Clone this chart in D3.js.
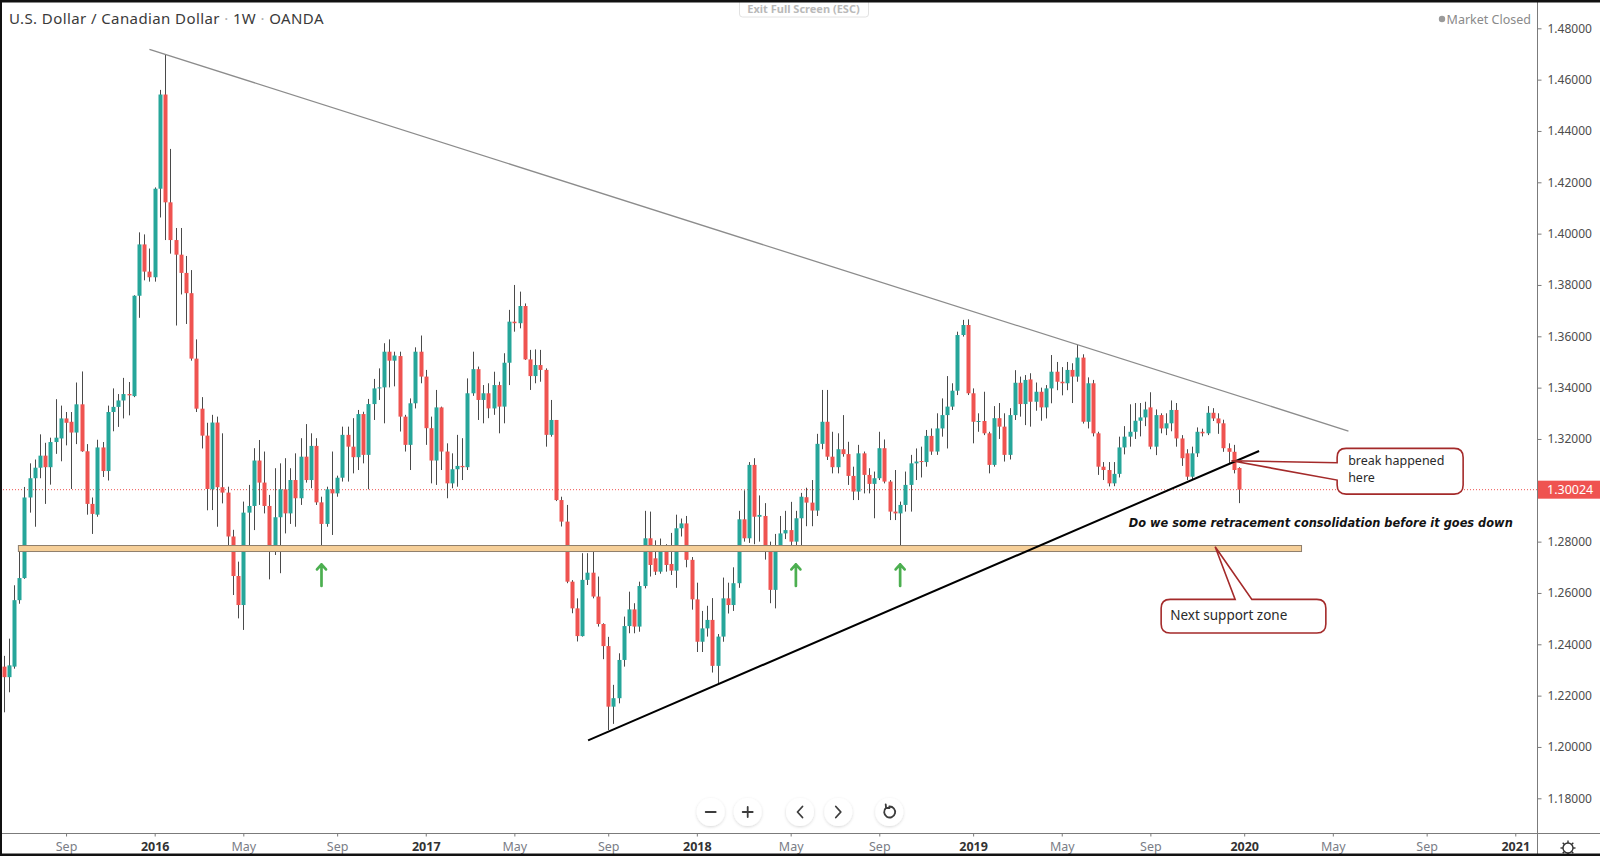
<!DOCTYPE html>
<html><head><meta charset="utf-8">
<script src="https://d3js.org/d3.v7.min.js"></script>
<style>
html,body{margin:0;padding:0;background:#fff;overflow:hidden}
svg{display:block}
</style></head><body>
<svg id="chart" width="1600" height="856"></svg>
<script>
// ================= DATA =================
const firstBarDate = "2015-06-15";   // weekly bars, one per week
// [open, high, low, close]
const bars2015 = [
[1.2313,1.2355,1.2135,1.2272],[1.2272,1.2422,1.2213,1.2318],[1.2313,1.2630,1.2305,1.2572],[1.2572,1.2780,1.2558,1.2658],
[1.2658,1.3013,1.2655,1.2972],[1.2972,1.3105,1.2913,1.3047],[1.3047,1.3120,1.2858,1.3088],[1.3088,1.3218,1.3047,1.3135],
[1.3135,1.3185,1.2947,1.3090],[1.3090,1.3205,1.3022,1.3188],[1.3188,1.3355,1.3142,1.3205],[1.3202,1.3330,1.3113,1.3280],
[1.3280,1.3305,1.3175,1.3263],[1.3267,1.3305,1.3005,1.3225],[1.3225,1.3420,1.3180,1.3335],[1.3335,1.3463,1.3150,1.3152],
[1.3152,1.3180,1.2905,1.2947],[1.2947,1.2972,1.2830,1.2908],[1.2905,1.3197,1.2897,1.3167],[1.3167,1.3188,1.3052,1.3075],
[1.3075,1.3330,1.3038,1.3305],[1.3305,1.3397,1.3230,1.3325],[1.3325,1.3375,1.3247,1.3350],[1.3350,1.3438,1.3280,1.3375],
[1.3375,1.3422,1.3292,1.3370],[1.3367,1.3760,1.3363,1.3758],[1.3758,1.4005,1.3672,1.3958],[1.3958,1.3997,1.3818,1.3852],
[1.3852,1.3942,1.3813,1.3830]
];
const bars2016 = [
[1.3830,1.4180,1.3813,1.4175],[1.4175,1.4560,1.4063,1.4542],[1.4542,1.4697,1.3975,1.4122],[1.4122,1.4330,1.3922,1.3975],
[1.3975,1.4022,1.3642,1.3918],[1.3918,1.4022,1.3763,1.3847],[1.3847,1.3913,1.3648,1.3768],[1.3768,1.3858,1.3505,1.3513],
[1.3513,1.3588,1.3305,1.3318],[1.3318,1.3363,1.3163,1.3213],[1.3213,1.3263,1.2922,1.3005],[1.3004,1.3294,1.2923,1.3264],
[1.3264,1.3287,1.2858,1.3012],[1.3012,1.3222,1.2949,1.2991],[1.2991,1.3014,1.2774,1.2820],[1.2820,1.2846,1.2592,1.2666],
[1.2666,1.2722,1.2501,1.2553],[1.2553,1.2956,1.2456,1.2913],[1.2913,1.3021,1.2774,1.2939],[1.2939,1.3164,1.2845,1.3116],
[1.3116,1.3196,1.2943,1.3030],[1.3030,1.3151,1.2910,1.2939],[1.2939,1.2982,1.2653,1.2781],[1.2781,1.3086,1.2748,1.2895],
[1.2895,1.3105,1.2677,1.3004],[1.3004,1.3125,1.2832,1.2910],[1.2910,1.3086,1.2869,1.3040],[1.3040,1.3144,1.2858,1.2969],
[1.2969,1.3203,1.2943,1.3131],[1.3131,1.3258,1.3030,1.3040],[1.3040,1.3222,1.3008,1.3173],[1.3173,1.3203,1.2943,1.2953],
[1.2953,1.2975,1.2768,1.2869],[1.2869,1.3014,1.2858,1.3004],[1.3004,1.3151,1.2826,1.2988],[1.2988,1.3057,1.2975,1.3049],
[1.3049,1.3248,1.3034,1.3216],[1.3216,1.3248,1.3034,1.3170],[1.3170,1.3281,1.3066,1.3129],[1.3129,1.3313,1.3079,1.3297],
[1.3297,1.3306,1.3105,1.3138],[1.3138,1.3356,1.3004,1.3336],[1.3336,1.3434,1.3274,1.3397],[1.3397,1.3475,1.3352,1.3401],
[1.3401,1.3573,1.3261,1.3540],[1.3540,1.3588,1.3401,1.3505],[1.3505,1.3540,1.3405,1.3525],[1.3523,1.3540,1.3229,1.3287],
[1.3287,1.3294,1.3151,1.3177],[1.3177,1.3358,1.3079,1.3339],[1.3339,1.3557,1.3319,1.3540],[1.3540,1.3603,1.3417,1.3443]
];
const bars2017 = [
[1.3443,1.3469,1.3177,1.3242],[1.3242,1.3287,1.3027,1.3116],[1.3116,1.3391,1.3021,1.3323],[1.3323,1.3326,1.3079,1.3151],
[1.3151,1.3183,1.2969,1.3027],[1.3027,1.3144,1.3008,1.3082],[1.3082,1.3216,1.3014,1.3095],[1.3095,1.3203,1.3040,1.3090],
[1.3090,1.3436,1.3079,1.3378],[1.3378,1.3540,1.3368,1.3472],[1.3472,1.3482,1.3274,1.3352],[1.3352,1.3410,1.3261,1.3378],
[1.3378,1.3417,1.3281,1.3319],[1.3319,1.3462,1.3294,1.3410],[1.3410,1.3423,1.3222,1.3326],[1.3326,1.3534,1.3261,1.3497],
[1.3497,1.3703,1.3410,1.3657],[1.3657,1.3800,1.3618,1.3651],[1.3651,1.3774,1.3631,1.3718],[1.3718,1.3728,1.3508,1.3510],
[1.3510,1.3547,1.3391,1.3445],[1.3445,1.3549,1.3417,1.3488],[1.3488,1.3547,1.3423,1.3469],[1.3469,1.3475,1.3170,1.3216],
[1.3216,1.3352,1.3209,1.3274],[1.3274,1.3274,1.2958,1.2962],[1.2962,1.2975,1.2859,1.2878],[1.2878,1.2943,1.2638,1.2644],
[1.2644,1.2650,1.2521,1.2540],[1.2540,1.2579,1.2411,1.2432],[1.2432,1.2755,1.2430,1.2651],[1.2651,1.2755,1.2631,1.2679],
[1.2679,1.2783,1.2579,1.2586],[1.2586,1.2664,1.2469,1.2479],[1.2479,1.2482,1.2342,1.2393],[1.2393,1.2429,1.2066,1.2157],
[1.2157,1.2242,1.2090,1.2190],[1.2190,1.2365,1.2170,1.2339],[1.2339,1.2508,1.2313,1.2471],[1.2471,1.2605,1.2443,1.2536],
[1.2536,1.2560,1.2443,1.2469],[1.2469,1.2644,1.2449,1.2627],[1.2627,1.2920,1.2618,1.2813],[1.2813,1.2917,1.2664,1.2709],
[1.2735,1.2805,1.2670,1.2683],[1.2683,1.2812,1.2675,1.2768],[1.2768,1.2790,1.2683,1.2709],[1.2713,1.2834,1.2670,1.2687],
[1.2687,1.2905,1.2620,1.2852],[1.2852,1.2890,1.2820,1.2871],[1.2871,1.2900,1.2700,1.2729],[1.2729,1.2740,1.2535,1.2575]
];
const bars2018 = [
[1.2575,1.2640,1.2370,1.2410],[1.2410,1.2530,1.2370,1.2462],[1.2462,1.2550,1.2430,1.2495],[1.2495,1.2580,1.2290,1.2316],
[1.2316,1.2440,1.2248,1.2430],[1.2430,1.2660,1.2410,1.2579],[1.2579,1.2640,1.2520,1.2553],[1.2553,1.2700,1.2530,1.2638],
[1.2638,1.2920,1.2620,1.2887],[1.2887,1.3000,1.2800,1.2813],[1.2813,1.3110,1.2795,1.3099],[1.3099,1.3125,1.2790,1.2897],
[1.2897,1.2980,1.2800,1.2904],[1.2900,1.2950,1.2730,1.2781],[1.2781,1.2800,1.2560,1.2612],[1.2612,1.2830,1.2540,1.2781],
[1.2781,1.2900,1.2760,1.2832],[1.2832,1.2920,1.2810,1.2845],[1.2845,1.2955,1.2765,1.2800],[1.2800,1.2920,1.2770,1.2891],
[1.2891,1.2990,1.2770,1.2975],[1.2973,1.3010,1.2860,1.2952],[1.2952,1.3040,1.2860,1.2921],[1.2921,1.3220,1.2900,1.3181],
[1.3181,1.3391,1.3160,1.3267],[1.3267,1.3391,1.3118,1.3131],[1.3131,1.3228,1.3066,1.3090],[1.3090,1.3222,1.3066,1.3160],
[1.3160,1.3293,1.3131,1.3141],[1.3141,1.3189,1.3021,1.3056],[1.3056,1.3092,1.2962,1.2995],[1.2995,1.3177,1.2962,1.3144],
[1.3144,1.3151,1.2988,1.3060],[1.3060,1.3086,1.2988,1.3025],[1.3025,1.3073,1.2891,1.3047],[1.3047,1.3228,1.3040,1.3164],
[1.3164,1.3198,1.3027,1.3034],[1.3034,1.3040,1.2884,1.2917],[1.2917,1.3079,1.2884,1.2910],[1.2910,1.2956,1.2781,1.2943],
[1.2943,1.3073,1.2917,1.3021],[1.3021,1.3138,1.2917,1.3105],[1.3105,1.3163,1.3040,1.3112],[1.3114,1.3170,1.3050,1.3110],
[1.3110,1.3235,1.3092,1.3212],[1.3212,1.3241,1.3138,1.3151],[1.3151,1.3300,1.3138,1.3241],[1.3241,1.3358,1.3209,1.3293],
[1.3293,1.3445,1.3163,1.3326],[1.3326,1.3417,1.3313,1.3388],[1.3388,1.3618,1.3371,1.3605],[1.3605,1.3664,1.3599,1.3644],
[1.3644,1.3666,1.3371,1.3378]
];
const bars2019 = [
[1.3378,1.3397,1.3183,1.3267],[1.3267,1.3300,1.3228,1.3270],[1.3270,1.3384,1.3215,1.3222],[1.3222,1.3228,1.3066,1.3099],
[1.3099,1.3328,1.3092,1.3281],[1.3281,1.3340,1.3200,1.3248],[1.3248,1.3300,1.3112,1.3138],[1.3138,1.3320,1.3120,1.3293],
[1.3293,1.3468,1.3274,1.3419],[1.3419,1.3443,1.3287,1.3336],[1.3336,1.3449,1.3254,1.3430],[1.3432,1.3456,1.3248,1.3345],
[1.3345,1.3420,1.3310,1.3384],[1.3384,1.3400,1.3271,1.3323],[1.3323,1.3410,1.3280,1.3397],[1.3397,1.3527,1.3339,1.3462],
[1.3462,1.3500,1.3390,1.3423],[1.3423,1.3480,1.3370,1.3417],[1.3417,1.3500,1.3390,1.3469],[1.3469,1.3495,1.3340,1.3443],
[1.3443,1.3567,1.3423,1.3517],[1.3517,1.3530,1.3260,1.3267],[1.3267,1.3440,1.3241,1.3417],[1.3417,1.3430,1.3210,1.3222],
[1.3222,1.3228,1.3060,1.3092],[1.3092,1.3110,1.3040,1.3079],[1.3079,1.3110,1.3015,1.3027],[1.3027,1.3110,1.3016,1.3064],
[1.3064,1.3209,1.3050,1.3167],[1.3167,1.3250,1.3140,1.3209],[1.3209,1.3335,1.3170,1.3228],[1.3228,1.3340,1.3200,1.3271],
[1.3271,1.3340,1.3210,1.3284],[1.3284,1.3345,1.3250,1.3315],[1.3323,1.3382,1.3160,1.3170],[1.3170,1.3315,1.3137,1.3293],
[1.3293,1.3300,1.3222,1.3241],[1.3241,1.3300,1.3215,1.3261],[1.3261,1.3350,1.3230,1.3313],[1.3313,1.3340,1.3170,1.3202],
[1.3202,1.3215,1.3095,1.3125],[1.3144,1.3160,1.3040,1.3053],[1.3053,1.3170,1.3040,1.3144],[1.3144,1.3245,1.3130,1.3228],
[1.3228,1.3240,1.3210,1.3222],[1.3222,1.3328,1.3215,1.3302],[1.3302,1.3320,1.3270,1.3280],[1.3280,1.3300,1.3220,1.3261],
[1.3261,1.3275,1.3150,1.3164],[1.3164,1.3183,1.3105,1.3150],[1.3150,1.3177,1.3066,1.3079],[1.3087,1.3090,1.2950,1.30024]
];
const lastPrice = 1.30024;

const priceTicks = [1.48,1.46,1.44,1.42,1.40,1.38,1.36,1.34,1.32,1.30,1.28,1.26,1.24,1.22,1.20,1.18];
const timeTickDates = ["2015-09-07","2016-01-04","2016-05-02","2016-09-05","2017-01-02","2017-05-01","2017-09-04",
  "2018-01-01","2018-05-07","2018-09-03","2019-01-07","2019-05-06","2019-09-02","2020-01-06","2020-05-04","2020-09-07","2021-01-04"];
const timeTickLabels = ["Sep","2016","May","Sep","2017","May","Sep","2018","May","Sep","2019","May","Sep","2020","May","Sep","2021"];

// drawings (time, price anchors)
const resistanceLine = [["2015-12-28",1.4718],["2020-05-25",1.3231]];
const supportTrendLine = [["2017-08-08",1.2026],["2020-01-26",1.3153]];
const supportZone = [["2015-07-05",1.27849],["2020-03-23",1.27615]];
const arrowDates = ["2016-08-15","2018-05-14","2018-10-01"];
const arrowTipPrice = 1.2717;
const breakCallout = {date:"2019-12-20", price:1.3115, lines:["break happened","here"]};
const supportCallout = {date:"2019-11-28", price:1.2780, lines:["Next support zone"]};
const noteText = {date:"2019-08-04", price:1.2860, text:"Do we some retracement consolidation before it goes down"};

// ================= CHART =================
const W = 1600, H = 856;
const PLOT_R = 1537, AXIS_Y = 833;
const UP = "#26a69a", DOWN = "#ef5350", WICK = "#4a4a4a";
const FONT = "'Trebuchet MS','Noto Sans',sans-serif";

const bars = [].concat(bars2015, bars2016, bars2017, bars2018, bars2019);
const t0 = new Date(firstBarDate + "T00:00:00Z");
const WEEK = 7 * 864e5;
const barDate = i => new Date(+t0 + i * WEEK);
const pd = s => new Date(s + "T00:00:00Z");

const x = d3.scaleUtc().domain([t0, pd("2021-01-04")]).range([3.5, 3.5 + 290 * 5.213]);
const y = d3.scaleLinear().domain([1.18, 1.48]).range([798.3, 28.3]);

const svg = d3.select("#chart");
svg.append("rect").attr("width", W).attr("height", H).attr("fill", "#fff");

const defs = svg.append("defs");
defs.append("clipPath").attr("id", "plot").append("rect").attr("x", 0).attr("y", 0).attr("width", PLOT_R).attr("height", AXIS_Y);
const f = defs.append("filter").attr("id", "sh").attr("x", "-50%").attr("y", "-50%").attr("width", "200%").attr("height", "200%");
f.append("feDropShadow").attr("dx", 0).attr("dy", 1).attr("stdDeviation", 1.6).attr("flood-color", "#000").attr("flood-opacity", 0.16);

const plot = svg.append("g").attr("clip-path", "url(#plot)");

// last price dotted line
plot.append("line").attr("x1", 0).attr("x2", PLOT_R).attr("y1", y(lastPrice)).attr("y2", y(lastPrice))
  .attr("stroke", DOWN).attr("stroke-width", 1).attr("stroke-dasharray", "1,2");

// candles
const cg = plot.append("g");
const BW = 4;
bars.forEach((b, i) => {
  const [o, h, l, c] = b;
  const cx = Math.round(x(barDate(i))) + 0.5;
  const col = c >= o ? UP : DOWN;
  cg.append("line").attr("x1", cx).attr("x2", cx).attr("y1", y(h)).attr("y2", y(l))
    .attr("stroke", WICK).attr("stroke-width", 1);
  const yt = y(Math.max(o, c)), yb = y(Math.min(o, c));
  cg.append("rect").attr("x", cx - BW / 2).attr("y", yt).attr("width", BW).attr("height", Math.max(1, yb - yt))
    .attr("fill", col);
});

// support zone
plot.append("rect")
  .attr("x", x(pd(supportZone[0][0]))).attr("y", y(supportZone[0][1]))
  .attr("width", x(pd(supportZone[1][0])) - x(pd(supportZone[0][0])))
  .attr("height", y(supportZone[1][1]) - y(supportZone[0][1]))
  .attr("fill", "#f6cf98").attr("stroke", "#8f7f6c").attr("stroke-width", 1);

// trend lines
plot.append("line")
  .attr("x1", x(pd(resistanceLine[0][0]))).attr("y1", y(resistanceLine[0][1]))
  .attr("x2", x(pd(resistanceLine[1][0]))).attr("y2", y(resistanceLine[1][1]))
  .attr("stroke", "#8c8c8c").attr("stroke-width", 1.3);
plot.append("line")
  .attr("x1", x(pd(supportTrendLine[0][0]))).attr("y1", y(supportTrendLine[0][1]))
  .attr("x2", x(pd(supportTrendLine[1][0]))).attr("y2", y(supportTrendLine[1][1]))
  .attr("stroke", "#000").attr("stroke-width", 2);

// green arrows
arrowDates.forEach(d => {
  const ax = x(pd(d)), ay = y(arrowTipPrice);
  plot.append("path")
    .attr("d", `M${ax},${ay + 23} V${ay + 1.5} M${ax - 4.5},${ay + 6.5} L${ax},${ay + 1.5} L${ax + 4.5},${ay + 6.5}`)
    .attr("fill", "none").attr("stroke", "#4caf50").attr("stroke-width", 2.7)
    .attr("stroke-linecap", "round").attr("stroke-linejoin", "round");
});

// note text
plot.append("text").attr("x", x(pd(noteText.date))).attr("y", y(noteText.price) + 1)
  .attr("font-family", "'DejaVu Sans','Noto Sans',sans-serif").attr("font-size", 12)
  .attr("font-weight", "bold").attr("font-style", "italic").attr("fill", "#131313")
  .attr("textLength", 384).attr("lengthAdjust", "spacingAndGlyphs")
  .text(noteText.text);

// callouts
const RED = "#a42a2a";
function calloutLeft(x0, y0, x1, y1, r, ty1, ty2, ax, ay) {
  return `M${x0 + r},${y0} H${x1 - r} Q${x1},${y0} ${x1},${y0 + r} V${y1 - r} Q${x1},${y1} ${x1 - r},${y1} H${x0 + r} Q${x0},${y1} ${x0},${y1 - r} V${ty2} L${ax},${ay} L${x0},${ty1} V${y0 + r} Q${x0},${y0} ${x0 + r},${y0} Z`;
}
function calloutTop(x0, y0, x1, y1, r, tx1, tx2, ax, ay) {
  return `M${x0 + r},${y0} H${tx1} L${ax},${ay} L${tx2},${y0} H${x1 - r} Q${x1},${y0} ${x1},${y0 + r} V${y1 - r} Q${x1},${y1} ${x1 - r},${y1} H${x0 + r} Q${x0},${y1} ${x0},${y1 - r} V${y0 + r} Q${x0},${y0} ${x0 + r},${y0} Z`;
}
{
  const ax = x(pd(breakCallout.date)), ay = y(breakCallout.price);
  const x0 = ax + 105.6, y0 = ay - 12.4, x1 = ax + 231.6, y1 = ay + 33.3;
  plot.append("path").attr("d", calloutLeft(x0, y0, x1, y1, 9, ay + 2, ay + 19.3, ax, ay))
    .attr("fill", "#fff").attr("stroke", RED).attr("stroke-width", 1.6);
  breakCallout.lines.forEach((t, i) => {
    plot.append("text").attr("x", x0 + 11).attr("y", y0 + 17 + i * 17)
      .attr("font-family", FONT).attr("font-size", 12.5).attr("fill", "#2a2a2a").text(t);
  });
}
{
  const ax = x(pd(supportCallout.date)), ay = y(supportCallout.price);
  const x0 = ax - 54, y0 = ay + 52.6, x1 = ax + 110.7, y1 = ay + 86.3;
  plot.append("path").attr("d", calloutTop(x0, y0, x1, y1, 9, ax + 20, ax + 36.7, ax, ay))
    .attr("fill", "#fff").attr("stroke", RED).attr("stroke-width", 1.6);
  supportCallout.lines.forEach((t, i) => {
    plot.append("text").attr("x", x0 + 9).attr("y", y0 + 20.5 + i * 17)
      .attr("font-family", FONT).attr("font-size", 13.5).attr("fill", "#2a2a2a").text(t);
  });
}

// ---- price axis ----
svg.append("line").attr("x1", PLOT_R + 0.5).attr("x2", PLOT_R + 0.5).attr("y1", 0).attr("y2", H)
  .attr("stroke", "#7b7b7b").attr("stroke-width", 1);
const pa = svg.append("g").attr("transform", `translate(${PLOT_R + 0.5},0)`)
  .call(d3.axisRight(y).tickValues(priceTicks).tickSize(4).tickPadding(6).tickFormat(d3.format(".5f")));
pa.select(".domain").remove();
pa.selectAll(".tick line").attr("stroke", "#7b7b7b");
pa.selectAll(".tick text").attr("font-family", FONT).attr("font-size", 12).attr("fill", "#4d4d4d");

// last price label
svg.append("rect").attr("x", PLOT_R + 1).attr("y", y(lastPrice) - 9).attr("width", W - PLOT_R - 1).attr("height", 18)
  .attr("fill", DOWN);
svg.append("text").attr("x", PLOT_R + 10).attr("y", y(lastPrice) + 4.5)
  .attr("font-family", FONT).attr("font-size", 12.5).attr("fill", "#fff").text(d3.format(".5f")(lastPrice));

// ---- time axis ----
svg.append("line").attr("x1", 0).attr("x2", W).attr("y1", AXIS_Y + 0.5).attr("y2", AXIS_Y + 0.5)
  .attr("stroke", "#7b7b7b").attr("stroke-width", 1);
const ta = svg.append("g").attr("transform", `translate(0,${AXIS_Y + 0.5})`)
  .call(d3.axisBottom(x).tickValues(timeTickDates.map(pd)).tickSize(3).tickPadding(6)
    .tickFormat((d, i) => timeTickLabels[i]));
ta.select(".domain").remove();
ta.selectAll(".tick line").attr("stroke", "#7b7b7b");
ta.selectAll(".tick text").attr("font-family", FONT).attr("font-size", 12.5)
  .attr("fill", (d, i) => /^\d/.test(timeTickLabels[i]) ? "#333" : "#7a7d86")
  .attr("font-weight", (d, i) => /^\d/.test(timeTickLabels[i]) ? "bold" : "normal");

// gear icon
{
  const gx = 1568, gy = 848;
  const g = svg.append("g").attr("stroke", "#333").attr("fill", "none").attr("stroke-width", 1.4);
  g.append("circle").attr("cx", gx).attr("cy", gy).attr("r", 5);
  for (let k = 0; k < 8; k++) {
    const a = k * Math.PI / 4;
    g.append("line").attr("x1", gx + Math.cos(a) * 5).attr("y1", gy + Math.sin(a) * 5)
      .attr("x2", gx + Math.cos(a) * 7.5).attr("y2", gy + Math.sin(a) * 7.5);
  }
}

// ---- header texts ----
const title = svg.append("text").attr("x", 9).attr("y", 24).attr("font-family", FONT).attr("font-size", 15)
  .attr("letter-spacing", 0.4).attr("fill", "#3a3a3a");
title.append("tspan").text("U.S. Dollar / Canadian Dollar");
title.append("tspan").attr("fill", "#b0b0b0").text(" · ");
title.append("tspan").text("1W");
title.append("tspan").attr("fill", "#b0b0b0").text(" · ");
title.append("tspan").text("OANDA");

svg.append("circle").attr("cx", 1442).attr("cy", 19).attr("r", 3.2).attr("fill", "#9a9a9a");
svg.append("text").attr("x", 1531).attr("y", 23.5).attr("text-anchor", "end")
  .attr("font-family", FONT).attr("font-size", 12.5).attr("fill", "#8a8a8a").text("Market Closed");

svg.append("rect").attr("x", 739.5).attr("y", -4).attr("width", 129).attr("height", 21).attr("rx", 3)
  .attr("fill", "#fff").attr("stroke", "#e2e2e2");
svg.append("text").attr("x", 803.5).attr("y", 13).attr("text-anchor", "middle")
  .attr("font-family", FONT).attr("font-size", 11).attr("font-weight", "bold").attr("fill", "#b9b9b9")
  .text("Exit Full Screen (ESC)");

// ---- bottom toolbar ----
const btnX = [710.7, 747.7, 800, 838.3, 889.3], btnY = 812;
btnX.forEach((bx, i) => {
  const g = svg.append("g").attr("transform", `translate(${bx},${btnY})`);
  g.append("circle").attr("r", 14).attr("fill", "#fff").attr("filter", "url(#sh)");
  const st = { fill: "none", stroke: "#3c3c3c", "stroke-width": 1.8, "stroke-linecap": "round", "stroke-linejoin": "round" };
  let p;
  if (i === 0) p = "M-5,0 H5";
  else if (i === 1) p = "M-5,0 H5 M0,-5 V5";
  else if (i === 2) p = "M2.5,-5.5 L-2.5,0 L2.5,5.5";
  else if (i === 3) p = "M-2.5,-5.5 L2.5,0 L-2.5,5.5";
  else p = "M-3.2,-4.2 A5.5,5.5 0 1 0 0,-5.5 M-3.2,-4.2 L-3.6,-7.6 M-3.2,-4.2 L0.2,-4.0";
  const path = g.append("path").attr("d", p);
  Object.entries(st).forEach(([k, v]) => path.attr(k, v));
});

// outer frame (top, left, bottom)
svg.append("rect").attr("x", 0).attr("y", 0).attr("width", W).attr("height", 2.5).attr("fill", "#111");
svg.append("rect").attr("x", 0).attr("y", 0).attr("width", 2).attr("height", H).attr("fill", "#111");
svg.append("rect").attr("x", 0).attr("y", H - 2.5).attr("width", W).attr("height", 2.5).attr("fill", "#111");
</script>
</body></html>
